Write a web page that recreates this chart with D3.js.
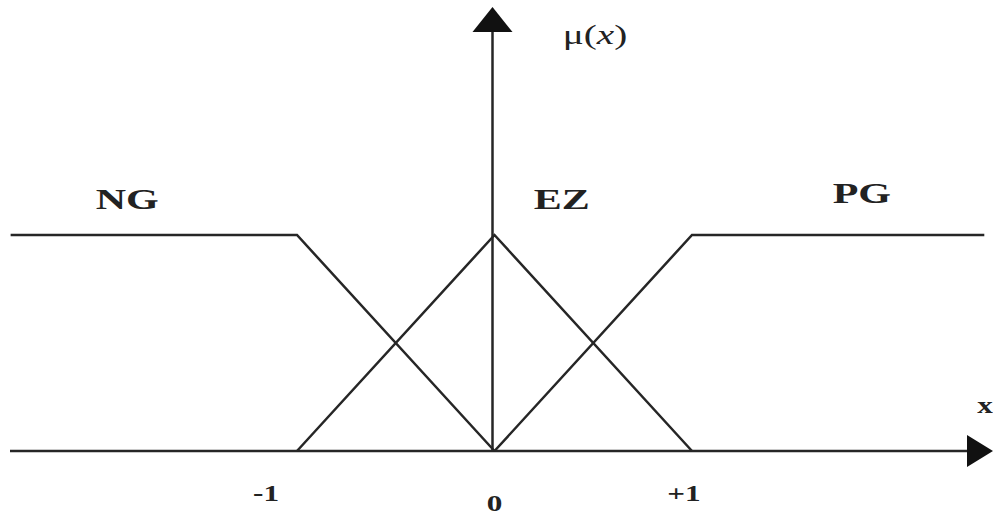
<!DOCTYPE html>
<html>
<head>
<meta charset="utf-8">
<script src="https://cdn.jsdelivr.net/npm/d3@7"></script>
<style>
  body { margin: 0; background: #fff; }
  svg { display: block; }
</style>
</head>
<body>
<script>
var width = 993,
    height = 515

// membership functions (x in universe units, mu in [0,1])
var ng = [[-2.45, 1], [-1, 1], [0, 0]];
var ez = [[-1, 0], [0, 1], [1, 0]];
var pg = [[0, 0], [1, 1], [2.48, 1]];

var setNames = ["NG", "EZ", "PG"];
var setLabelX = [-1.86, 0.34, 1.86];
var setLabelY = [1.17, 1.17, 1.2];

var tickValues = [-1, 0, 1];
var tickLabels = ["-1", "0", "+1"];

var svg = d3.select("body").append("svg")
    .attr("width", width)
    .attr("height", height);

var x = d3.scaleLinear().domain([-1, 1]).range([297, 692]);
var y = d3.scaleLinear().domain([0, 1]).range([451, 235]);

var line = d3.line()
    .x(d => x(d[0]))
    .y(d => y(d[1]));

var ink = "#262626";

// x axis
svg.append("line")
    .attr("x1", 10).attr("x2", 972)
    .attr("y1", y(0)).attr("y2", y(0))
    .attr("stroke", ink).attr("stroke-width", 2.5);
svg.append("path")
    .attr("d", "M993," + y(0) + "L967," + (y(0) - 16) + "L967," + (y(0) + 16) + "Z")
    .attr("fill", "#111");

// y axis
svg.append("line")
    .attr("x1", x(0) - 2).attr("x2", x(0) - 2)
    .attr("y1", y(0)).attr("y2", 30)
    .attr("stroke", ink).attr("stroke-width", 2.5);
svg.append("path")
    .attr("d", "M" + (x(0) - 2) + ",7L" + (x(0) - 22) + ",32L" + (x(0) + 18) + ",32Z")
    .attr("fill", "#111");

// membership curves
[ng, ez, pg].forEach(function(d) {
  svg.append("path")
      .datum(d)
      .attr("d", line)
      .attr("fill", "none")
      .attr("stroke", ink)
      .attr("stroke-width", 2.5)
      .attr("stroke-linejoin", "miter");
});

function label(txt, px, py, size, sx) {
  svg.append("text")
      .attr("transform", "translate(" + px + "," + py + ") scale(" + sx + ",1)")
      .attr("text-anchor", "middle")
      .style("font-family", "'Liberation Serif', 'DejaVu Serif', serif")
      .style("font-weight", "bold")
      .style("font-size", size + "px")
      .style("fill", "#222")
      .text(txt);
}

setNames.forEach(function(n, i) {
  label(n, x(setLabelX[i]), y(setLabelY[i]) + 11, 30, 1.4);
});

tickValues.forEach(function(v, i) {
  label(tickLabels[i], x(v) - (v < 0 ? 31 : v > 0 ? 8 : 0) , v === 0 ? 511 : 501, 24, 1.3);
});

// axis names
svg.append("text")
    .attr("transform", "translate(595,44) scale(1.4,1)")
    .attr("text-anchor", "middle")
    .style("font-family", "'Liberation Serif', 'DejaVu Serif', serif")
    .style("font-size", "28px")
    .style("fill", "#222")
    .html("μ(<tspan font-style='italic'>x</tspan>)");

label("x", 985, 413, 24, 1.3);
</script>
</body>
</html>
